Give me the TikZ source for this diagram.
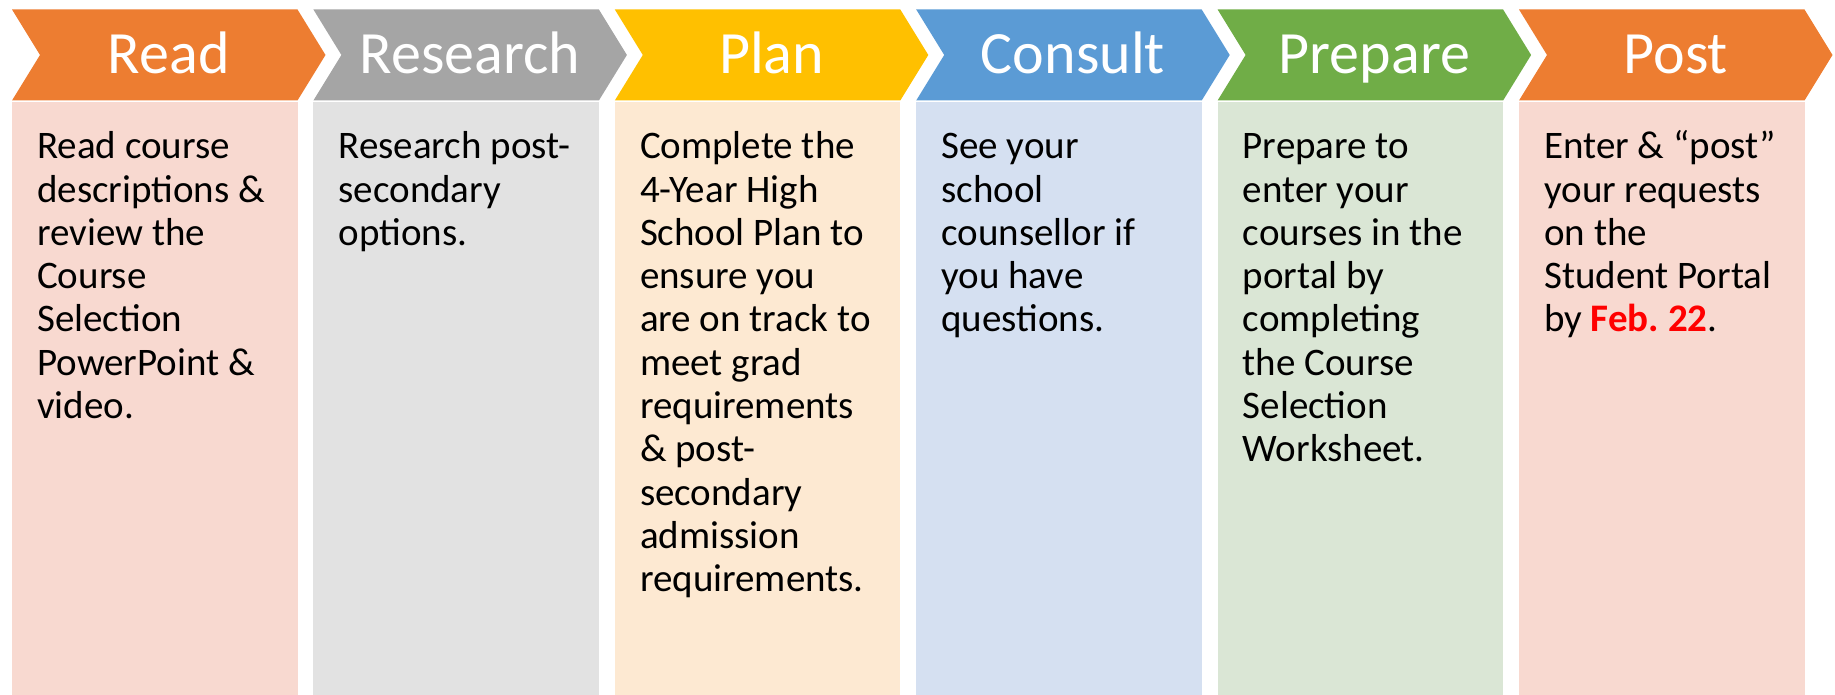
\documentclass[tikz,border=0pt]{standalone}
\usepackage{fontspec}
\setmainfont{Carlito}
\frenchspacing

\definecolor{orangeA}{HTML}{ED7D31}
\definecolor{greyA}{HTML}{A5A5A5}
\definecolor{goldA}{HTML}{FFC000}
\definecolor{blueA}{HTML}{5B9BD5}
\definecolor{greenA}{HTML}{70AD47}
\definecolor{orangeB}{HTML}{F8D9D0}
\definecolor{greyB}{HTML}{E2E2E2}
\definecolor{goldB}{HTML}{FDE9D2}
\definecolor{blueB}{HTML}{D5E0F1}
\definecolor{greenB}{HTML}{DAE6D5}

\tikzset{
  steptitle/.style={anchor=base, inner sep=0pt, text=white, font=\fontsize{60}{72}\selectfont},
  steptext/.style={anchor=north west, inner sep=0pt, align=left, font=\fontsize{39}{43.3}\selectfont},
}

\begin{document}
\begin{tikzpicture}[x=1pt,y=1pt]
\useasboundingbox (0,0) rectangle (1835,695);
% Read
\fill[orangeA] (12,685.5) -- (297.5,685.5) -- (325.5,640) -- (297.5,594.5) -- (12,594.5) -- (40,640) -- cycle;
\fill[orangeB] (12,0) rectangle (297.5,593.3);
\node[steptitle] (read) at (168.75,621) {Read};
\node[steptext] (readtxt) at (37,566.8) {\strut Read course\\descriptions \&\\review the\\Course\\Selection\\PowerPoint \&\\video.};
% Research
\fill[greyA] (313.4,685.5) -- (598.9,685.5) -- (626.9,640) -- (598.9,594.5) -- (313.4,594.5) -- (341.4,640) -- cycle;
\fill[greyB] (313.4,0) rectangle (598.9,593.3);
\node[steptitle] (research) at (470.15,621) {Research};
\node[steptext] (researchtxt) at (338.4,566.8) {\strut Research post-\\secondary\\options.};
% Plan
\fill[goldA] (614.8,685.5) -- (900.3,685.5) -- (928.3,640) -- (900.3,594.5) -- (614.8,594.5) -- (642.8,640) -- cycle;
\fill[goldB] (614.8,0) rectangle (900.3,593.3);
\node[steptitle] (plan) at (771.55,621) {Plan};
\node[steptext] (plantxt) at (639.8,566.8) {\strut Complete the\\4-Year High\\School Plan to\\ensure you\\are on track to\\meet grad\\requirements\\\& post-\\secondary\\admission\\requirements.};
% Consult
\fill[blueA] (916.2,685.5) -- (1201.7,685.5) -- (1229.7,640) -- (1201.7,594.5) -- (916.2,594.5) -- (944.2,640) -- cycle;
\fill[blueB] (916.2,0) rectangle (1201.7,593.3);
\node[steptitle] (consult) at (1072.95,621) {Consult};
\node[steptext] (consulttxt) at (941.2,566.8) {\strut See your\\school\\counsellor if\\you have\\questions.};
% Prepare
\fill[greenA] (1217.6,685.5) -- (1503.1,685.5) -- (1531.1,640) -- (1503.1,594.5) -- (1217.6,594.5) -- (1245.6,640) -- cycle;
\fill[greenB] (1217.6,0) rectangle (1503.1,593.3);
\node[steptitle] (prepare) at (1374.35,621) {Prepare};
\node[steptext] (preparetxt) at (1242.6,566.8) {\strut Prepare to\\enter your\\courses in the\\portal by\\completing\\the Course\\Selection\\Worksheet.};
% Post
\fill[orangeA] (1519,685.5) -- (1804.5,685.5) -- (1832.5,640) -- (1804.5,594.5) -- (1519,594.5) -- (1547,640) -- cycle;
\fill[orangeB] (1519,0) rectangle (1804.5,593.3);
\node[steptitle] (post) at (1675.75,621) {Post};
\node[steptext] (posttxt) at (1544,566.8) {\strut Enter \& “post”\\your requests\\on the\\Student Portal\\by \textcolor{red}{\textbf{Feb. 22}}.};
\end{tikzpicture}
\end{document}
